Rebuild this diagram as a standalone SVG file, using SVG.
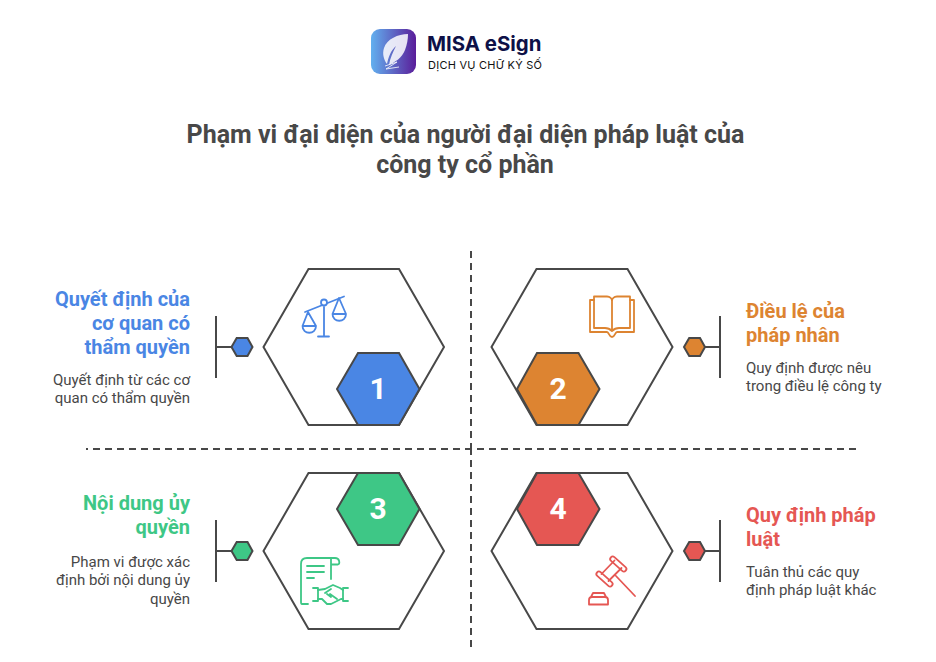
<svg xmlns="http://www.w3.org/2000/svg" width="936" height="662" viewBox="0 0 936 662">
<style>
text{font-family:Roboto,"Liberation Sans",sans-serif}
.title{font-size:25px;font-weight:700;fill:#484848;text-anchor:middle}
.h{font-size:20px;font-weight:700}
.d{font-size:15px;fill:#484848}
.e{text-anchor:end}
.n{font-size:30px;font-weight:700;fill:#fff;text-anchor:middle}
.hex{fill:#fff;stroke:#484848;stroke-width:2}
.s{stroke:#484848;stroke-width:2}
.l{fill:none;stroke:#484848;stroke-width:2}
.dash{fill:none;stroke:#484848;stroke-width:2;stroke-dasharray:7 5}
.i{fill:none;stroke-width:1.8;stroke-linecap:round;stroke-linejoin:round}
</style>
<defs>
<linearGradient id="lg" x1="0" x2="1" y1="0" y2="0"><stop offset="0" stop-color="#62b0ef"/><stop offset="1" stop-color="#5a1d9a"/></linearGradient>
</defs>
<g id="logo">
<rect x="371" y="29" width="45" height="45" rx="9" fill="url(#lg)"/>
<path d="M408 34C398 34 387 39 384 48C382 54 384 60 387 64C388 58 391 50 396 46C393 52 390 58 389 65C395 62 402 58 405 50C407 45 408 39 408 34Z" fill="#fff" fill-opacity=".85"/>
<path d="M385 66L397 62L386 69L399 67" fill="none" stroke="#fff" stroke-width=".8"/>
<text x="427" y="51" font-size="20.400" font-weight="700" fill="#0e1147" style="font-family:Inter,Roboto,sans-serif">MISA eSign</text>
<text x="428" y="68.500" font-size="11" fill="#111" letter-spacing=".25" style="font-family:Inter,Roboto,sans-serif">DỊCH VỤ CHỮ KÝ SỐ</text>
</g>
<g id="title">
<text class="title" x="465.500" y="143">Phạm vi đại diện của người đại diện pháp luật của</text>
<text class="title" x="465" y="173">công ty cổ phần</text>
</g>
<g id="connectors">
<path class="dash" d="M471 251V450M471 448V648"/>
<path class="dash" stroke-dashoffset="5" d="M86 449H856"/>
<path class="l" d="M216 316V378M216 347H231M720 316V378M705 347H720M216 520V582M216 551H231M720 520V582M705 551H720"/>
</g>
<g id="node1">
<path class="hex" d="M263.500 347L308.500 269H399L444 347L399 425H308.500Z"/>
<path class="s" fill="#4a86e4" d="M337 389L358 353H399L419.500 389L399 425H358Z"/>
<text class="n" x="378" y="399">1</text>
<path class="s" fill="#4a86e4" d="M231.500 347L236.700 338H247.500L252.500 347L247.500 356H236.700Z"/>
<g class="i" stroke="#4a86e4">
<path d="M305 312L344 296.500M324 307V336.500M318 336.500H329"/>
<circle cx="324" cy="302.500" r="3" fill="#fff"/>
<path d="M308 312L302.500 326M308 312L316 326M302.500 326H316C316 335 302.500 335 302.500 326Z"/>
<path d="M339 298L332.500 314M339 298L346 314M332.500 314H346C346 323 332.500 323 332.500 314Z"/>
</g>
<text class="h e" fill="#4a86e4" x="190" y="306">Quyết định của</text>
<text class="h e" fill="#4a86e4" x="190" y="330">cơ quan có</text>
<text class="h e" fill="#4a86e4" x="190" y="354">thẩm quyền</text>
<text class="d e" x="190" y="385">Quyết định từ các cơ</text>
<text class="d e" x="190" y="403">quan có thẩm quyền</text>
</g>
<g id="node2">
<path class="hex" d="M491.500 347L536.500 269H627.500L672.500 347L627.500 425H536.500Z"/>
<path class="s" fill="#dd8431" d="M517 389L537 353H578.500L599.500 389L578.500 425H537Z"/>
<text class="n" x="558" y="399">2</text>
<path class="s" fill="#dd8431" d="M684 347L689.200 338H700L705 347L700 356H689.200Z"/>
<g class="i" stroke="#dd8431">
<path d="M594 296.500H607C610 296.500 612 298.500 612 301V331C610 329 608 328 605 328H594ZM630 296.500H617C614 296.500 612 298.500 612 301M630 296.500V328H619C616 328 614 329 612 331"/>
<path d="M594 300H590V332H607C609 332 609 337 612 337C615 337 615 332 617 332H634V300H630"/>
</g>
<text class="h" fill="#dd8431" x="746" y="318">Điều lệ của</text>
<text class="h" fill="#dd8431" x="746" y="342">pháp nhân</text>
<text class="d" x="746" y="373">Quy định được nêu</text>
<text class="d" x="746" y="391">trong điều lệ công ty</text>
</g>
<g id="node3">
<path class="hex" d="M263.500 551L308.500 473H399L444 551L399 629H308.500Z"/>
<path class="s" fill="#3ec786" d="M337 509L358 473H399L419.500 509L399 545H358Z"/>
<text class="n" x="378" y="519">3</text>
<path class="s" fill="#3ec786" d="M231.500 551L236.700 542H247.500L252.500 551L247.500 560H236.700Z"/>
<g class="i" stroke="#3ec786">
<path d="M308 604H302C301 604 301 603 301 602V564C301 560 303 558 307 558H335C340 558 340 564 338 564.500H331V558M331 564V579"/>
<path d="M307 566H324M307 572H324M307 578H314"/>
<path d="M313 588H318V601H313M348 588H343V601H348"/>
<path d="M318 590L325 589L333 585L340 588L343 590M318 599L322 599L327 604L331 604L341 599L343 599M325 593L331 589M330 594L337 599M327 594L331 597"/>
</g>
<text class="h e" fill="#3ec786" x="190" y="510">Nội dung ủy</text>
<text class="h e" fill="#3ec786" x="190" y="534">quyền</text>
<text class="d e" x="190" y="567">Phạm vi được xác</text>
<text class="d e" x="190" y="585">định bởi nội dung ủy</text>
<text class="d e" x="190" y="604">quyền</text>
</g>
<g id="node4">
<path class="hex" d="M491.500 551L536.500 473H627.500L672.500 551L627.500 629H536.500Z"/>
<path class="s" fill="#e55753" d="M517 509L537 473H578.500L599.500 509L578.500 545H537Z"/>
<text class="n" x="558" y="519">4</text>
<path class="s" fill="#e55753" d="M684 551L689.200 542H700L705 551L700 560H689.200Z"/>
<g class="i" stroke="#e55753">
<rect x="-10" y="-2.500" width="20" height="5" rx="2.500" transform="translate(604.500 579) rotate(42)"/>
<rect x="-10" y="-2.500" width="20" height="5" rx="2.500" transform="translate(618.300 564) rotate(42)"/>
<path d="M601.500 574L614.500 560.500M608.500 581L621.500 568M616 576L635 596"/>
<path d="M589 604.500V600C589 598 590 597 592 597H605C607 597 608 598 608 600V604.500ZM591 597L593 593H604L606 597"/>
</g>
<text class="h" fill="#e55753" x="746" y="522">Quy định pháp</text>
<text class="h" fill="#e55753" x="746" y="546">luật</text>
<text class="d" x="746" y="577">Tuân thủ các quy</text>
<text class="d" x="746" y="595">định pháp luật khác</text>
</g>
</svg>
